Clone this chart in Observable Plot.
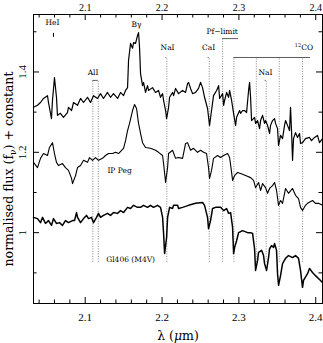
<!DOCTYPE html>
<html><head><meta charset="utf-8">
<script src="https://cdn.jsdelivr.net/npm/d3@7"></script>
<script src="https://cdn.jsdelivr.net/npm/@observablehq/plot@0.6"></script>
<style>html,body{margin:0;padding:0;background:#fff}svg{display:block}</style>
</head><body><div id="chart"></div>
<script>
// Top spectrum (object)
const topLam = [
2.0327,2.0379,2.0418,2.0457,2.0509,2.0522,2.0561,2.0574,2.0600,2.0626,
2.0639,2.0678,2.0717,2.0769,2.0782,2.0822,2.0848,2.0900,2.0939,2.0978,
2.1030,2.1069,2.1108,2.1160,2.1199,2.1238,2.1290,2.1329,2.1368,2.1421,
2.1460,2.1499,2.1525,2.1551,2.1564,2.1590,2.1616,2.1629,2.1655,2.1681,
2.1694,2.1707,2.1720,2.1746,2.1759,2.1785,2.1811,2.1824,2.1876,2.1915,
2.1954,2.1980,2.2007,2.2020,2.2046,2.2059,2.2085,2.2098,2.2137,2.2150,
2.2176,2.2215,2.2267,2.2306,2.2332,2.2345,2.2371,2.2397,2.2436,2.2475,
2.2501,2.2527,2.2553,2.2592,2.2618,2.2644,2.2670,2.2710,2.2736,2.2749,
2.2788,2.2801,2.2814,2.2840,2.2866,2.2879,2.2905,2.2931,2.2957,2.2970,
2.3009,2.3022,2.3048,2.3074,2.3100,2.3126,2.3139,2.3152,2.3165,2.3204,
2.3217,2.3243,2.3269,2.3282,2.3308,2.3334,2.3347,2.3373,2.3399,2.3412,
2.3438,2.3464,2.3477,2.3503,2.3516,2.3542,2.3568,2.3594,2.3607,2.3633,
2.3659,2.3672,2.3685,2.3698,2.3711,2.3737,2.3763,2.3789,2.3802,2.3828,
2.3867,2.3919,2.3945,2.3984,2.4023,2.4049,2.4088];
const topFlux = [
1.312,1.317,1.324,1.334,1.341,1.324,1.284,1.329,1.386,1.337,
1.292,1.297,1.287,1.299,1.312,1.304,1.324,1.317,1.334,1.324,
1.337,1.324,1.341,1.334,1.346,1.334,1.349,1.337,1.346,1.334,
1.349,1.341,1.354,1.361,1.429,1.471,1.459,1.473,1.471,1.491,
1.498,1.461,1.396,1.366,1.374,1.349,1.366,1.354,1.361,1.349,
1.354,1.337,1.346,1.329,1.304,1.284,1.312,1.337,1.349,1.341,
1.359,1.346,1.354,1.349,1.371,1.374,1.359,1.346,1.349,1.359,
1.374,1.361,1.337,1.309,1.267,1.304,1.341,1.354,1.366,1.334,
1.346,1.317,1.329,1.349,1.337,1.354,1.329,1.297,1.267,1.287,
1.304,1.297,1.304,1.304,1.299,1.354,1.374,1.337,1.279,1.287,
1.272,1.279,1.259,1.279,1.292,1.272,1.279,1.267,1.247,1.267,
1.279,1.284,1.272,1.259,1.217,1.242,1.234,1.267,1.279,1.267,
1.254,1.312,1.254,1.180,1.234,1.249,1.237,1.247,1.222,1.224,
1.234,1.237,1.229,1.237,1.242,1.224,1.234];

// Middle spectrum (IP Peg)
const midLam = [
2.0327,2.0379,2.0418,2.0457,2.0509,2.0535,2.0574,2.0600,2.0626,2.0652,
2.0704,2.0743,2.0782,2.0822,2.0835,2.0874,2.0900,2.0939,2.0978,2.1030,
2.1056,2.1095,2.1134,2.1173,2.1225,2.1264,2.1303,2.1355,2.1395,2.1434,
2.1473,2.1499,2.1525,2.1551,2.1577,2.1616,2.1642,2.1668,2.1694,2.1720,
2.1746,2.1785,2.1850,2.1915,2.1954,2.2007,2.2020,2.2046,2.2072,2.2085,
2.2137,2.2176,2.2215,2.2267,2.2306,2.2332,2.2371,2.2410,2.2462,2.2501,
2.2540,2.2579,2.2605,2.2618,2.2644,2.2670,2.2723,2.2762,2.2801,2.2853,
2.2879,2.2905,2.2918,2.2944,2.2983,2.3022,2.3087,2.3152,2.3191,2.3217,
2.3256,2.3282,2.3308,2.3347,2.3373,2.3399,2.3438,2.3464,2.3490,2.3516,
2.3542,2.3568,2.3607,2.3646,2.3698,2.3737,2.3776,2.3802,2.3828,2.3867,
2.3893,2.3958,2.3997,2.4036,2.4088];
const midFlux = [
1.175,1.162,1.185,1.197,1.192,1.212,1.224,1.197,1.175,1.167,
1.172,1.162,1.155,1.135,1.122,1.142,1.162,1.167,1.180,1.175,
1.187,1.180,1.187,1.180,1.185,1.192,1.197,1.197,1.200,1.197,
1.205,1.210,1.229,1.254,1.272,1.304,1.319,1.309,1.272,1.247,
1.224,1.212,1.210,1.205,1.200,1.192,1.172,1.125,1.162,1.197,
1.205,1.185,1.187,1.185,1.222,1.224,1.205,1.210,1.200,1.205,
1.200,1.197,1.162,1.135,1.155,1.185,1.192,1.187,1.192,1.197,
1.187,1.150,1.130,1.142,1.150,1.147,1.142,1.137,1.130,1.112,
1.125,1.105,1.122,1.112,1.098,1.110,1.117,1.125,1.105,1.068,
1.080,1.073,1.110,1.098,1.110,1.093,1.085,1.063,1.055,1.068,
1.073,1.080,1.073,1.073,1.068];

// Bottom spectrum (Gl406, M4V)
const botLam = [
2.0327,2.0379,2.0418,2.0444,2.0483,2.0522,2.0561,2.0587,2.0626,2.0665,
2.0704,2.0743,2.0782,2.0835,2.0861,2.0887,2.0900,2.0939,2.0978,2.1017,
2.1043,2.1082,2.1108,2.1147,2.1173,2.1199,2.1238,2.1290,2.1329,2.1368,
2.1421,2.1460,2.1499,2.1551,2.1590,2.1629,2.1681,2.1720,2.1759,2.1811,
2.1850,2.1889,2.1941,2.1980,2.2007,2.2020,2.2033,2.2059,2.2072,2.2098,
2.2137,2.2150,2.2202,2.2215,2.2267,2.2345,2.2436,2.2527,2.2553,2.2592,
2.2605,2.2631,2.2657,2.2697,2.2762,2.2801,2.2840,2.2866,2.2892,2.2918,
2.2931,2.2944,2.2970,2.2996,2.3048,2.3113,2.3152,2.3178,2.3204,2.3217,
2.3243,2.3256,2.3295,2.3321,2.3334,2.3360,2.3386,2.3399,2.3425,2.3451,
2.3464,2.3490,2.3503,2.3516,2.3542,2.3568,2.3607,2.3646,2.3698,2.3737,
2.3776,2.3802,2.3828,2.3841,2.3893,2.3919,2.3958,2.3997,2.4036,2.4088];
const botFlux = [
1.038,1.035,1.025,1.038,1.023,1.030,1.018,1.035,1.023,1.025,
1.018,1.030,1.025,1.030,1.030,1.050,1.038,1.025,1.035,1.043,
1.035,1.038,1.025,1.038,1.048,1.038,1.043,1.048,1.043,1.050,
1.048,1.055,1.050,1.063,1.060,1.068,1.063,1.063,1.068,1.063,
1.068,1.063,1.068,1.063,1.038,0.998,0.948,0.988,1.038,1.063,
1.060,1.068,1.068,1.060,1.063,1.068,1.073,1.075,1.068,1.038,
1.010,1.030,1.060,1.063,1.063,1.055,1.060,1.048,1.050,1.013,
0.948,0.963,0.980,1.000,1.005,1.000,1.000,0.998,0.960,0.906,
0.931,0.951,0.956,0.943,0.923,0.906,0.938,0.960,0.968,0.963,
0.973,0.956,0.898,0.869,0.893,0.923,0.936,0.943,0.938,0.943,
0.936,0.906,0.864,0.881,0.898,0.911,0.901,0.893,0.886,0.876];

// Line identifications (dotted markers)
const markLam = [2.1099, 2.1170, 2.2062, 2.2614, 2.2788, 2.2935, 2.3227, 2.3355, 2.3525, 2.3829];
const markTop = [1.379, 1.379, 1.436, 1.436, 1.483, 1.436, 1.436, 1.379, 1.436, 1.436];
const markBottom = 0.926;
// Horizontal connectors: [x1, x2, y]
const capX1 = [2.1099, 2.2788, 2.2935, 2.2050, 2.2600, 2.3342];
const capX2 = [2.1170, 2.2996, 2.3932, 2.2062, 2.2614, 2.3355];
const capY  = [1.379, 1.483, 1.436, 1.436, 1.436, 1.379];
// Annotation labels
const labelText = ["HeI", "Bγ", "Pf−limit", "NaI", "CaI", "12CO", "AlI", "NaI", "IP Peg", "Gl406 (M4V)"];
const labelLam  = [2.0574, 2.1668, 2.2782, 2.2072, 2.2605, 2.3847, 2.1102, 2.3347, 2.1447, 2.1591];
const labelFlux = [1.523, 1.519, 1.501, 1.461, 1.461, 1.461, 1.399, 1.399, 1.155, 0.933];
const heTickLam = [2.0587];
const heTickY1 = 1.486, heTickY2 = 1.496;

// Axes
const xDomain = [2.0327, 2.4088];
const yDomain = [0.8237, 1.543];
const xMajor = [2.1, 2.2, 2.3, 2.4];
const xMinor = [2.04, 2.06, 2.08, 2.12, 2.14, 2.16, 2.18, 2.22, 2.24, 2.26, 2.28, 2.32, 2.34, 2.36, 2.38];
const yMajor = [1, 1.2, 1.4];
const yMinor = [0.9, 1.1, 1.3, 1.5];
const xTitle = "λ (μm)";
const yTitle = "normalised flux (fν) + constant";

const frameW = 289, frameH = 289;
const serif = "'DejaVu Serif', serif";
const tickFont = "'Liberation Serif', serif";

const spec = (lam, flux) => lam.map((l, i) => ({l, f: flux[i]}));
const marks = lam => lam.map((l, i) => ({l, top: markTop[i]}));

const chart = Plot.plot({
  width: 323, height: 343,
  marginTop: 14, marginBottom: 40, marginLeft: 33, marginRight: 1,
  x: {domain: xDomain},
  y: {domain: yDomain},
  style: {fontFamily: tickFont, background: "#fff", color: "#000"},
  marks: [
    // dotted identification lines
    Plot.ruleX(marks(markLam), {x: "l", y1: markBottom, y2: "top", stroke: "#666", strokeWidth: 0.8, strokeDasharray: "1,1.5"}),
    Plot.ruleY(capY.map((y, i) => ({y, x1: capX1[i], x2: capX2[i]})), {y: "y", x1: "x1", x2: "x2", stroke: "#333", strokeWidth: 0.8}),
    Plot.ruleX(heTickLam, {x: d => d, y1: heTickY1, y2: heTickY2, stroke: "#000", strokeWidth: 1}),
    // spectra
    Plot.line(spec(topLam, topFlux), {x: "l", y: "f", stroke: "#000", strokeWidth: 1.2}),
    Plot.line(spec(midLam, midFlux), {x: "l", y: "f", stroke: "#000", strokeWidth: 1.1}),
    Plot.line(spec(botLam, botFlux), {x: "l", y: "f", stroke: "#000", strokeWidth: 1.5}),
    // annotations
    Plot.text(labelText.map((t, i) => ({t, l: labelLam[i], f: labelFlux[i]})), {x: "l", y: "f", text: "t", fontSize: 7.5, fontFamily: serif, fill: "#000"}),
    // frame & inward ticks
    Plot.frame({stroke: "#000", strokeWidth: 1}),
    Plot.tickX(xMajor, {x: d => d, insetTop: frameH - 6, stroke: "#000"}),
    Plot.tickX(xMinor, {x: d => d, insetTop: frameH - 3.5, stroke: "#000"}),
    Plot.tickX(xMajor, {x: d => d, insetBottom: frameH - 6, stroke: "#000"}),
    Plot.tickX(xMinor, {x: d => d, insetBottom: frameH - 3.5, stroke: "#000"}),
    Plot.tickY(yMajor, {y: d => d, insetRight: frameW - 6, stroke: "#000"}),
    Plot.tickY(yMinor, {y: d => d, insetRight: frameW - 3.5, stroke: "#000"}),
    Plot.tickY(yMajor, {y: d => d, insetLeft: frameW - 6, stroke: "#000"}),
    Plot.tickY(yMinor, {y: d => d, insetLeft: frameW - 3.5, stroke: "#000"}),
    // tick labels
    Plot.axisX(xMajor, {anchor: "bottom", tickSize: 0, tickPadding: 10, fontSize: 11, tickFormat: d => d.toFixed(1), label: null}),
    Plot.axisX(xMajor, {anchor: "top", tickSize: 0, tickPadding: 4, fontSize: 10, tickFormat: d => d.toFixed(1), label: null}),
    Plot.axisY(yMajor, {anchor: "left", tickSize: 0, tickPadding: 8, tickRotate: -90, fontSize: 11, tickFormat: d => String(d), label: null}),
    // axis titles
    Plot.text([xTitle], {frameAnchor: "bottom", dy: 32, text: d => d, textAnchor: "middle", lineAnchor: "middle", fontSize: 12.5, fontFamily: serif}),
    Plot.text([yTitle], {frameAnchor: "left", dx: -25, dy: 10, rotate: -90, text: d => d, textAnchor: "middle", lineAnchor: "middle", fontSize: 12.5, fontFamily: serif})
  ]
});

// rich text formatting (sub/superscripts, italic mu)
chart.querySelectorAll("text").forEach(t => {
  const s = t.textContent;
  if (s === "12CO") t.innerHTML = '<tspan font-size="5" dy="-2.5">12</tspan><tspan dy="2.5">CO</tspan>';
  else if (s === yTitle) t.innerHTML = 'normalised flux (f<tspan font-size="9" dy="3">ν</tspan><tspan dy="-3">) + constant</tspan>';
  else if (s === xTitle) t.innerHTML = 'λ (<tspan font-style="italic">μ</tspan>m)';
});
document.getElementById("chart").appendChild(chart);
</script>
</body></html>
